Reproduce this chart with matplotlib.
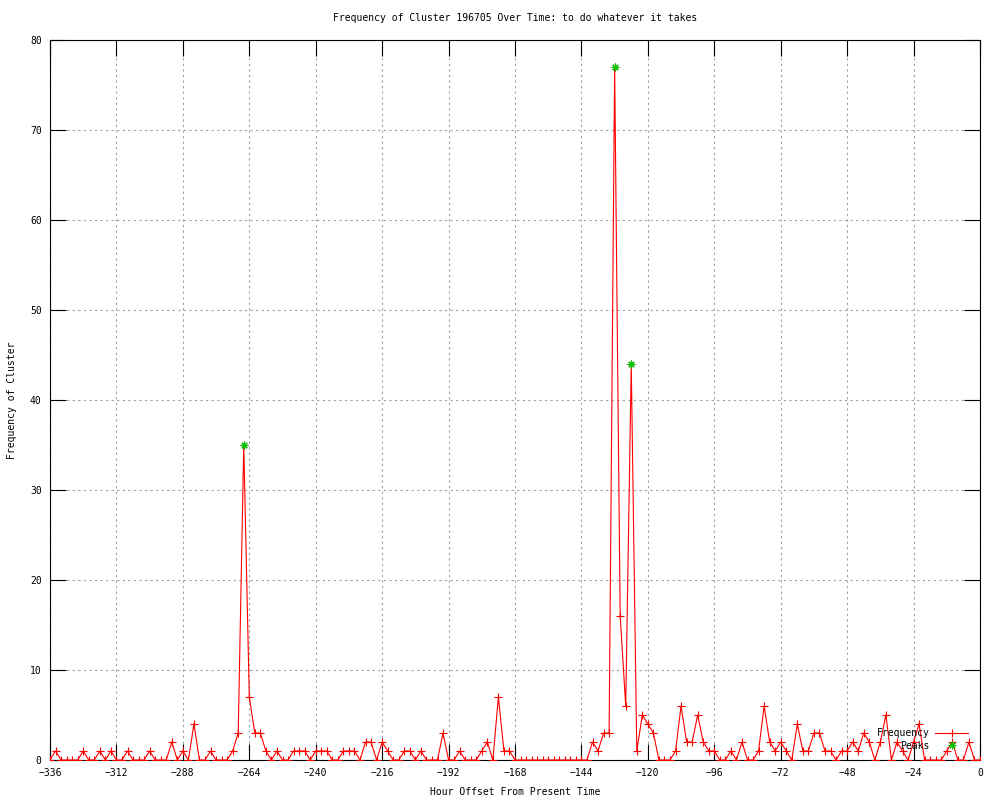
"""Frequency of a cluster over the last two weeks, gnuplot look."""

import matplotlib

matplotlib.use("Agg")

import matplotlib.pyplot as plt  # noqa: E402
import numpy as np  # noqa: E402

# One sample every two hours, from -336 h up to now.
hours = np.arange(-336, 1, 2)
frequency = [
    0, 1, 0, 0, 0, 0, 1, 0, 0, 1, 0, 1, 0, 0, 1, 0, 0, 0, 1, 0,
    0, 0, 2, 0, 1, 0, 4, 0, 0, 1, 0, 0, 0, 1, 3, 35, 7, 3, 3, 1,
    0, 1, 0, 0, 1, 1, 1, 0, 1, 1, 1, 0, 0, 1, 1, 1, 0, 2, 2, 0,
    2, 1, 0, 0, 1, 1, 0, 1, 0, 0, 0, 3, 0, 0, 1, 0, 0, 0, 1, 2,
    0, 7, 1, 1, 0, 0, 0, 0, 0, 0, 0, 0, 0, 0, 0, 0, 0, 0, 2, 1,
    3, 3, 77, 16, 6, 44, 1, 5, 4, 3, 0, 0, 0, 1, 6, 2, 2, 5, 2, 1,
    1, 0, 0, 1, 0, 2, 0, 0, 1, 6, 2, 1, 2, 1, 0, 4, 1, 1, 3, 3,
    1, 1, 0, 1, 1, 2, 1, 3, 2, 0, 2, 5, 0, 2, 1, 0, 2, 4, 0, 0,
    0, 0, 1, 2, 0, 0, 2, 0, 0,
]

peak_hours = [-266, -132, -126]
peak_values = [35, 77, 44]

x_ticks = list(range(-336, 1, 24))
y_ticks = list(range(0, 81, 10))

plt.rcParams["font.family"] = ["DejaVu Sans Mono"]
plt.rcParams["font.size"] = 7

fig = plt.figure(figsize=(10, 8), dpi=100)
ax = fig.add_axes([0.05, 0.05, 0.93, 0.9])

ax.plot(hours, frequency, color="#ff0000", linewidth=0.8, marker="+",
        markersize=5.5, markeredgewidth=0.8, label="Frequency", zorder=3)
ax.plot(peak_hours, peak_values, linestyle="none", marker=(8, 2, 0),
        markersize=5.5, markeredgewidth=0.8, color="#00c000", label="Peaks", zorder=4)

ax.set_xlim(-336, 0)
ax.set_ylim(0, 80)
ax.set_xticks(x_ticks)
ax.set_yticks(y_ticks)

ax.tick_params(direction="in", length=11.5, width=0.8, top=True, right=True,
               color="black", labelsize=7)
ax.tick_params(axis="x", pad=6)
ax.tick_params(axis="y", pad=6)
ax.grid(True, color="#a0a0a0", linestyle=(0, (2, 3)), linewidth=0.8)
for spine in ax.spines.values():
    spine.set_linewidth(0.8)

ax.set_title("Frequency of Cluster 196705 Over Time: to do whatever it takes",
             fontsize=7, pad=14)
ax.set_xlabel("Hour Offset From Present Time", fontsize=7, labelpad=6)
ax.set_ylabel("Frequency of Cluster", fontsize=7, labelpad=9)

ax.legend(loc="lower right", bbox_to_anchor=(0.997, 0.001), frameon=False,
          markerfirst=False, handlelength=3.4, handletextpad=0.6,
          labelspacing=0.25, numpoints=1, fontsize=7)

fig.savefig("out.png")
plt.close(fig)
